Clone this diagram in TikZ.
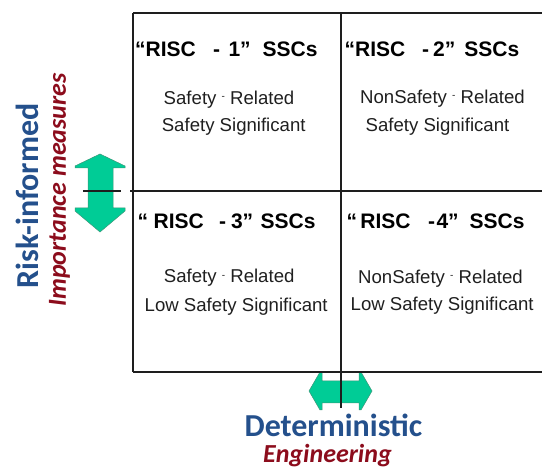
\documentclass[tikz,border=0pt]{standalone}
\usepackage{fontspec}
\setmainfont{Liberation Sans}
\newfontfamily\carlito{Carlito}
\definecolor{riskblue}{RGB}{36,80,140}
\definecolor{impred}{RGB}{140,12,28}
\definecolor{arrowgreen}{RGB}{0,204,150}
\definecolor{arrowedge}{RGB}{60,150,120}
\definecolor{gridline}{RGB}{30,30,30}
\newcommand{\rdash}{\raisebox{4.5pt}{\fontsize{10}{10}\selectfont -}}
\begin{document}
\begin{tikzpicture}[x=1pt,y=-1pt,
  celltitle/.style={anchor=base west, inner sep=0pt, font=\fontsize{21}{21}\selectfont\bfseries},
  cellbody/.style={anchor=base, inner sep=0pt, font=\fontsize{18.6}{18.6}\selectfont, text=black!88},
  gridthick/.style={draw=gridline, line width=2pt},
  gridthin/.style={draw=gridline, line width=1.3pt},
  bigarrow/.style={fill=arrowgreen, draw=arrowedge, line width=0.5pt, line join=miter}]
\useasboundingbox (0,0) rectangle (542,468);

% grid coordinates
\coordinate (tl) at (133,13);
\coordinate (tr) at (543,13);
\coordinate (bl) at (133,372);
\coordinate (br) at (543,372);
\coordinate (ml) at (130,191);
\coordinate (mr) at (543,191);
\coordinate (mt) at (341,13);
\coordinate (mb) at (341,408);
\coordinate (sl) at (83,191);
\coordinate (sr) at (121,191);

% arrows
\path[bigarrow] (100,154) -- (125,166) -- (125,168) -- (113,168) -- (113,208) -- (125,208) -- (125,211)
  -- (100,232) -- (75,211) -- (75,208) -- (88,208) -- (88,168) -- (75,168) -- (75,166) -- cycle;
\path[bigarrow] (309,391) -- (320,372) -- (322,372) -- (322,381) -- (359,381) -- (359,372) -- (361,372)
  -- (372,391) -- (361,410) -- (359,410) -- (359,403) -- (322,403) -- (322,410) -- (320,410) -- cycle;

% grid lines
\draw[gridthick] (tl) -- (tr);
\draw[gridthick] (bl) -- (br);
\draw[draw=gridline, line width=2.6pt] (tl) -- (bl);
\draw[gridthin] (ml) -- (mr);
\draw[gridthin] (mt) -- (mb);
\draw[gridthin] (sl) -- (sr);

% cell titles
\node[celltitle] (t1) at (135,56.5) {“RISC\hspace{17.3pt}-\hspace{8.4pt}1”\hspace{12pt}SSCs};
\node[celltitle] (t2) at (344.5,56.5) {“RISC\hspace{16.8pt}-\hspace{4pt}2”\hspace{9pt}SSCs};
\node[celltitle] (t3) at (137.5,229) {“\hspace{5.5pt}RISC\hspace{15.3pt}-\hspace{4.9pt}3”\hspace{7.5pt}SSCs};
\node[celltitle] (t4) at (346.5,229) {“\hspace{3.2pt}RISC\hspace{17.6pt}-\hspace{1.4pt}4”\hspace{11pt}SSCs};

% cell bodies
\node[cellbody] (b1a) at (229,104.5) {Safety \rdash{} Related};
\node[cellbody] (b1b) at (233.7,131.5) {Safety Significant};
\node[cellbody] (b2a) at (442.5,103.5) {NonSafety \rdash{} Related};
\node[cellbody] (b2b) at (437.5,131.5) {Safety Significant};
\node[cellbody] (b3a) at (229.2,282.7) {Safety \rdash{} Related};
\node[cellbody] (b3b) at (236.2,311.5) {Low Safety Significant};
\node[cellbody] (b4a) at (440.5,283.3) {NonSafety \rdash{} Related};
\node[cellbody] (b4b) at (442.2,311) {Low Safety Significant};

% axis labels
\node[rotate=90, anchor=base, inner sep=0pt, text=riskblue, font=\carlito\bfseries\fontsize{32}{32}\selectfont] (risk) at (38.5,196) {Risk-informed};
\node[rotate=90, anchor=base, inner sep=0pt, text=impred, font=\carlito\bfseries\itshape\fontsize{26}{26}\selectfont] (imp) at (66,190) {Importance measures};
\node[anchor=base, inner sep=0pt, text=riskblue, font=\carlito\bfseries\fontsize{32}{32}\selectfont] (det) at (333.5,437) {Deterministic};
\node[anchor=base, inner sep=0pt, text=impred, font=\carlito\bfseries\itshape\fontsize{26}{26}\selectfont] (eng) at (327.5,462.7) {Engineering};
\end{tikzpicture}
\end{document}
